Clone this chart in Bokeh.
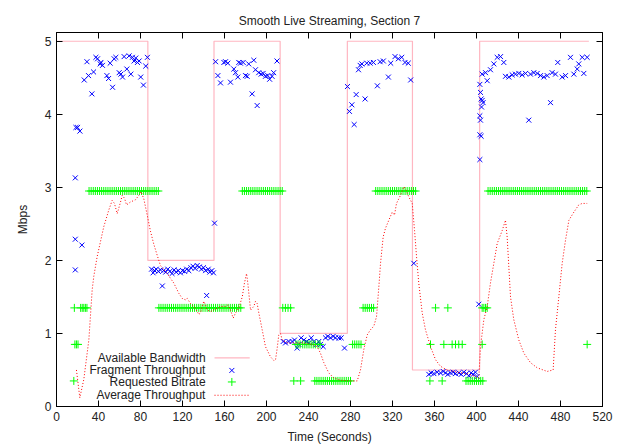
from bokeh.plotting import figure
from bokeh.models import Range1d, LinearAxis, FixedTicker, Label
from bokeh.embed import file_html
from bokeh.resources import INLINE

# Available bandwidth schedule (piecewise constant, Mbps)
bw_time = [0, 87, 150, 213, 277, 339, 403, 507]
bw_mbps = [5, 2, 5, 1, 5, 0.5, 5, 5]

# Measured throughput of each downloaded fragment (Mbps)
frag_time = [
    17.9, 17.9, 17.9, 18.5, 20.1, 22.3, 24.2, 26.4, 29.0, 30.5, 33.7, 35.3, 37.5, 39.1,
    41.6, 42.3, 43.8, 48.0, 49.6, 51.1, 53.4, 54.9, 56.5, 59.7, 61.3, 62.9, 64.4, 67.0,
    69.2, 70.8, 72.3, 73.9, 75.5, 77.1, 78.7, 80.2, 82.8, 85.0, 86.6,
    90.5, 92.0, 93.5, 95.0, 97.0, 99.0, 100.8, 102.0, 104.0, 106.0, 108.0, 110.0, 112.0,
    114.0, 116.0, 118.0, 120.0, 122.0, 124.0, 126.0, 128.0, 130.0, 132.0, 134.0, 136.0,
    138.0, 140.0, 142.0, 143.0, 144.5, 146.0, 148.0, 149.5, 150.5,
    151.5, 153.7, 156.2, 159.4, 161.0, 163.2, 165.7, 168.9, 170.5, 172.7, 173.6, 175.2,
    177.8, 180.0, 181.6, 183.1, 186.3, 187.9, 189.5, 191.1, 192.6, 194.9, 196.8, 199.0,
    201.2, 203.0, 205.3, 206.8, 210.0,
    215.9, 218.1, 221.3, 224.4, 226.7, 229.2, 230.8, 233.0, 235.6, 238.1, 240.3, 242.6,
    245.1, 247.6, 249.8, 251.4, 254.0, 256.2, 258.4, 261.0, 263.5, 265.7, 268.9, 271.1,
    274.3,
    277.1, 279.0, 281.3, 283.5, 285.4, 287.6, 289.2, 290.8, 293.9, 295.5, 298.7, 301.8,
    305.6, 308.2, 311.3, 316.1, 318.3, 322.4, 325.6, 328.8, 331.9, 335.0, 337.3, 340.3,
    354.6, 356.8, 359.4, 362.5, 365.7, 368.3, 370.5, 372.7, 375.2, 377.8, 380.0, 383.2,
    385.4, 387.9, 390.5, 392.7, 394.9, 396.8, 399.0, 400.6,
    402.2, 403.2, 403.8, 404.4, 405.4, 406.3, 404.8, 403.2, 403.8, 403.2, 404.4, 403.2,
    405.4, 408.6, 410.2, 413.3, 416.5, 419.7, 422.9, 426.0, 427.6, 430.8, 434.0, 437.1,
    440.3, 443.5, 446.7, 449.8, 451.4, 454.6, 457.8, 461.0, 464.1, 467.3, 470.5, 472.0,
    475.2, 477.4, 481.6, 484.8, 489.5, 492.7, 495.9, 497.4, 500.7, 502.2, 505.4,
]
frag_mbps = [
    3.13, 2.29, 1.87, 3.82, 3.82, 3.77, 2.21, 4.47, 4.72, 4.53, 4.28, 4.58, 4.78, 4.76,
    4.69, 4.71, 4.67, 4.53, 4.49, 4.70, 4.37, 4.76, 4.78, 4.57, 4.55, 4.51, 4.79, 4.62,
    4.80, 4.55, 4.78, 4.73, 4.77, 4.71, 4.73, 4.51, 4.40, 4.66, 4.78,
    1.88, 1.83, 1.86, 1.88, 1.85, 1.87, 1.65, 1.86, 1.84, 1.88, 1.85, 1.82, 1.87,
    1.84, 1.86, 1.83, 1.86, 1.85, 1.88, 1.86, 1.90, 1.92, 1.89, 1.93, 1.91,
    1.88, 1.90, 1.86, 1.52, 1.88, 1.84, 1.86, 1.83, 2.51,
    4.72, 4.53, 4.43, 4.71, 4.72, 4.70, 4.44, 4.62, 4.57, 4.51, 4.71, 4.70,
    4.71, 4.53, 4.52, 4.69, 4.28, 4.74, 4.61, 4.12, 4.57, 4.55, 4.56, 4.52,
    4.53, 4.48, 4.52, 4.57, 4.73,
    0.89, 0.87, 0.89, 0.89, 0.91, 0.80, 0.85, 0.94, 0.91, 0.89, 0.87, 0.94,
    0.89, 0.85, 0.89, 0.85, 0.82, 0.94, 0.96, 0.94, 0.96, 0.94, 0.94, 0.94,
    0.80,
    4.38, 4.04, 4.13, 3.86, 4.27, 4.61, 4.67, 4.69, 4.21, 4.70, 4.70, 4.71,
    4.39, 4.72, 4.73, 4.51, 4.70, 4.79, 4.76, 4.78, 4.71, 4.70, 4.47, 1.96,
    0.44, 0.46, 0.45, 0.47, 0.46, 0.48, 0.46, 0.44, 0.46, 0.47, 0.45, 0.46,
    0.44, 0.47, 0.45, 0.42, 0.46, 0.44, 0.47, 0.41,
    1.40, 4.41, 4.30, 4.21, 4.19, 4.16, 4.10, 3.98, 3.92, 3.72, 3.70, 3.38,
    4.55, 4.57, 4.46, 4.61, 4.69, 4.78, 4.79, 4.71, 4.52, 4.51, 4.54, 4.55,
    4.56, 4.54, 4.56, 3.92, 4.55, 4.57, 4.56, 4.53, 4.51, 4.53, 4.16, 4.57,
    4.55, 4.71, 4.51, 4.53, 4.78, 4.55, 4.62, 4.69, 4.78, 4.56, 4.78,
]

# Bitrate requested by the player for each fragment (Mbps)
req_time = [
    16.5, 17.5, 19.0, 20.5, 17.0, 23.0, 24.5, 26.0, 27.5, 29.0,
    31, 33, 35, 37, 39, 41, 43, 45, 47, 49, 51, 53, 55, 57, 59, 61, 63, 65, 67, 69,
    71, 73, 75, 77, 79, 81, 83, 85, 87, 89, 91, 93, 95, 97,
    97.5, 99.5, 101.5, 103.5, 105.5, 107.5, 109.5, 111.5, 113.5, 115.5, 117.5, 119.5,
    121.5, 123.5, 125.5, 127.5, 129.5, 131.5, 133.5, 135.5, 137.5, 139.5, 141.5, 143.5,
    145.5, 147.5, 149.5, 151.5, 153.5, 155.5, 157.5, 159.5, 161.5, 163.5, 165.5, 167.5,
    169.5, 171.5, 173.5, 175.5,
    177, 179, 181, 183, 185, 187, 189, 191, 193, 195, 197, 199, 201, 203, 205, 207,
    209, 211, 213, 215,
    215.5, 218, 220.5, 223,
    226, 232.5,
    228, 230, 232, 234.5, 236.5, 238.5, 240.5, 242.5, 244.5, 246.5, 249, 251,
    246, 248, 250, 252, 254, 256, 258, 260, 262, 264, 266, 268, 270, 272, 274, 276,
    278, 280,
    282, 284, 286, 288, 290,
    292, 294, 296, 298, 300, 302,
    304, 306, 308, 310, 312, 314, 316, 318, 320, 322, 324, 326, 328, 330, 332, 334,
    336, 338, 340, 342,
    355.6, 367.3,
    356.2, 368.9, 376.8, 380.0, 383.1, 386.4, 405.4,
    361.0, 372.7, 405.4, 407.0, 408.6, 410.2,
    390, 392, 394, 396, 398, 400, 402, 404, 406,
    411, 413, 415, 417, 419, 421, 423, 425, 427, 429, 431, 433, 435, 437, 439, 441,
    443, 445, 447, 449, 451, 453, 455, 457, 459, 461, 463, 465, 467, 469, 471, 473,
    475, 477, 479, 481, 483, 485, 487, 489, 491, 493, 495, 497, 499, 501, 503, 505,
    505.4,
]
req_mbps = (
    [0.35, 0.85, 0.85, 0.85, 1.35, 1.35, 1.35, 1.35, 1.35, 1.35]
    + [2.95] * 34
    + [1.35] * 40
    + [2.95] * 20
    + [1.35] * 4
    + [0.35] * 2
    + [0.85] * 12
    + [0.35] * 18
    + [0.85] * 5
    + [1.35] * 6
    + [2.95] * 20
    + [0.35] * 2
    + [0.85] * 7
    + [1.35] * 6
    + [0.35] * 9
    + [2.95] * 48
    + [0.85]
)

# Smoothed (running average) throughput (Mbps)
avg_time = [
    19.0, 22.2, 26.0, 30.8, 34.0, 35.5, 38.7, 45.0, 49.8, 53.0, 55.2, 57.8, 61.0, 62.6,
    64.8, 66.7, 70.5, 75.2, 78.4, 80.6, 83.2, 86.4, 89.5, 92.7, 95.9, 99.0, 105.4, 111.7,
    116.5, 119.7, 122.9, 124.4, 127.6, 130.8, 134.0, 135.5, 137.1, 138.8, 140.3, 141.9,
    143.5, 146.7, 149.8, 156.2, 161.0, 163.1, 165.7, 168.3, 170.5, 173.6, 176.9, 179.0,
    181.0, 182.2, 184.8, 187.9, 189.5, 191.1, 192.7, 195.9, 199.0, 203.8, 207.0, 208.6,
    210.2, 211.7, 213.3, 215.0, 219.7, 227.6, 235.5, 243.5, 248.3, 251.4, 254.6, 259.3,
    264.1, 270.5, 280.0, 286.4, 289.5, 292.7, 295.9, 299.0, 302.2, 304.8, 307.0, 308.6,
    311.1, 313.3, 316.5, 319.7, 321.9, 323.8, 327.6, 330.8, 332.4, 335.5, 338.8, 341.0,
    342.9, 345.0, 348.3, 351.4, 356.2, 361.0, 365.7, 372.1, 381.6, 391.1, 399.0, 402.2,
    403.8, 407.0, 410.2, 413.3, 416.5, 419.7, 424.5, 427.6, 429.2, 432.4, 435.5, 440.3,
    445.1, 451.4, 457.8, 467.3, 473.0, 475.2, 478.4, 481.6, 484.8, 488.0, 492.7, 497.4,
    500.6, 505.4,
]
avg_mbps = [
    0.50, 0.12, 0.37, 0.91, 1.60, 1.78, 2.05, 2.46, 2.69, 2.82, 2.78, 2.64, 2.80, 2.89,
    2.85, 2.76, 2.80, 2.83, 2.89, 2.94, 2.84, 2.62, 2.40, 2.22, 2.07, 1.93, 1.82, 1.69,
    1.55, 1.48, 1.46, 1.48, 1.41, 1.37, 1.30, 1.26, 1.28, 1.37, 1.44, 1.39,
    1.32, 1.30, 1.32, 1.37, 1.37, 1.39, 1.32, 1.21, 1.28, 1.35, 1.50, 1.69,
    1.82, 1.69, 1.32, 1.37, 1.44, 1.41, 1.28, 1.05, 0.82, 0.68, 0.63, 0.64,
    0.80, 0.98, 1.00, 0.91, 0.87, 0.87, 0.87, 0.85, 0.82, 0.73, 0.60, 0.46,
    0.39, 0.36, 0.35, 0.35, 0.50, 0.78, 0.98, 1.05, 1.10, 1.23, 1.64, 1.96,
    2.32, 2.44, 2.55, 2.66, 2.62, 2.78, 2.89, 3.01, 2.98, 2.87, 2.78, 2.41,
    2.05, 1.69, 1.28, 1.05, 0.82, 0.64, 0.55, 0.50, 0.47, 0.45, 0.41, 0.39,
    0.82, 1.19, 1.37, 1.69, 1.96, 2.23, 2.41, 2.55, 2.32, 1.50, 1.19, 0.91,
    0.73, 0.60, 0.53, 0.48, 0.50, 1.05, 1.50, 1.96, 2.28, 2.55, 2.66, 2.76,
    2.78, 2.78,
]

x_ticks = [0, 40, 80, 120, 160, 200, 240, 280, 320, 360, 400, 440, 480, 520]
y_ticks = [0, 1, 2, 3, 4, 5]

FONT = "Liberation Sans"
BW_COLOR = "#ffb6c1"
FRAG_COLOR = "#0000ff"
REQ_COLOR = "#00ff00"
AVG_COLOR = "#ff0000"

p = figure(
    width=619, height=446,
    x_range=Range1d(0, 520), y_range=Range1d(0, 5.12),
    output_backend="svg", toolbar_location=None,
    min_border_left=56, min_border_right=17, min_border_top=32, min_border_bottom=38,
    x_axis_label="Time (Seconds)", y_axis_label="Mbps",
    title="Smooth Live Streaming, Section 7",
)
p.background_fill_color = "white"
p.border_fill_color = "white"
p.outline_line_color = "black"
p.outline_line_width = 1
p.xgrid.visible = False
p.ygrid.visible = False

p.title.align = "center"
p.title.text_font = FONT
p.title.text_font_size = "12px"
p.title.text_font_style = "normal"
p.title.text_color = "#222222"

for ax, ticks in ((p.xaxis[0], x_ticks), (p.yaxis[0], y_ticks)):
    ax.ticker = FixedTicker(ticks=ticks)
    ax.major_tick_in = 6
    ax.major_tick_out = 0
    ax.minor_tick_line_color = None
    ax.major_label_text_font = FONT
    ax.major_label_text_font_size = "12px"
    ax.major_label_text_color = "#222222"
    ax.major_label_standoff = 5
    ax.axis_label_text_font = FONT
    ax.axis_label_text_font_size = "12px"
    ax.axis_label_text_font_style = "normal"
    ax.axis_label_text_color = "#222222"
    ax.axis_line_color = "black"
    ax.major_tick_line_color = "black"
p.xaxis[0].axis_label_standoff = 6
p.yaxis[0].axis_label_standoff = 12

# Mirrored ticks on the top and right edges (no labels)
for side, ticks in (("above", x_ticks), ("right", y_ticks)):
    mirror = LinearAxis(ticker=FixedTicker(ticks=ticks), major_tick_in=6, major_tick_out=0,
                        minor_tick_line_color=None, major_label_standoff=0,
                        major_label_overrides={t: "" for t in ticks},
                        major_label_text_color=None)
    p.add_layout(mirror, side)

# Series
p.step(bw_time, bw_mbps, mode="after", line_color=BW_COLOR, line_width=1.2)
p.scatter(frag_time, frag_mbps, marker="x", size=7, line_color=FRAG_COLOR, line_width=1)
p.scatter(req_time, req_mbps, marker="cross", size=8, line_color=REQ_COLOR, line_width=1)
p.line(avg_time, avg_mbps, line_color=AVG_COLOR, line_width=1, line_dash="1 2")

# Key (labels on the left, samples on the right)
key_labels = ["Available Bandwidth", "Fragment Throughput", "Requested Bitrate", "Average Throughput"]
key_rows = [0.667, 0.494, 0.336, 0.154]
key_text_x = 142.0
key_line_x = [150.5, 184.0]
key_mark_x = 167.0
for lab, yy in zip(key_labels, key_rows):
    p.add_layout(Label(x=key_text_x, y=yy, text=lab, text_align="right", text_baseline="middle",
                       text_font=FONT, text_font_size="12px", text_color="#222222"))
p.line(key_line_x, [key_rows[0]] * 2, line_color=BW_COLOR, line_width=1.2)
p.scatter([key_mark_x], [key_rows[1]], marker="x", size=7, line_color=FRAG_COLOR, line_width=1)
p.scatter([key_mark_x], [key_rows[2]], marker="cross", size=8, line_color=REQ_COLOR, line_width=1)
p.line(key_line_x, [key_rows[3]] * 2, line_color=AVG_COLOR, line_width=1, line_dash="1 2")

open("out.html", "w").write(file_html(p, INLINE))
